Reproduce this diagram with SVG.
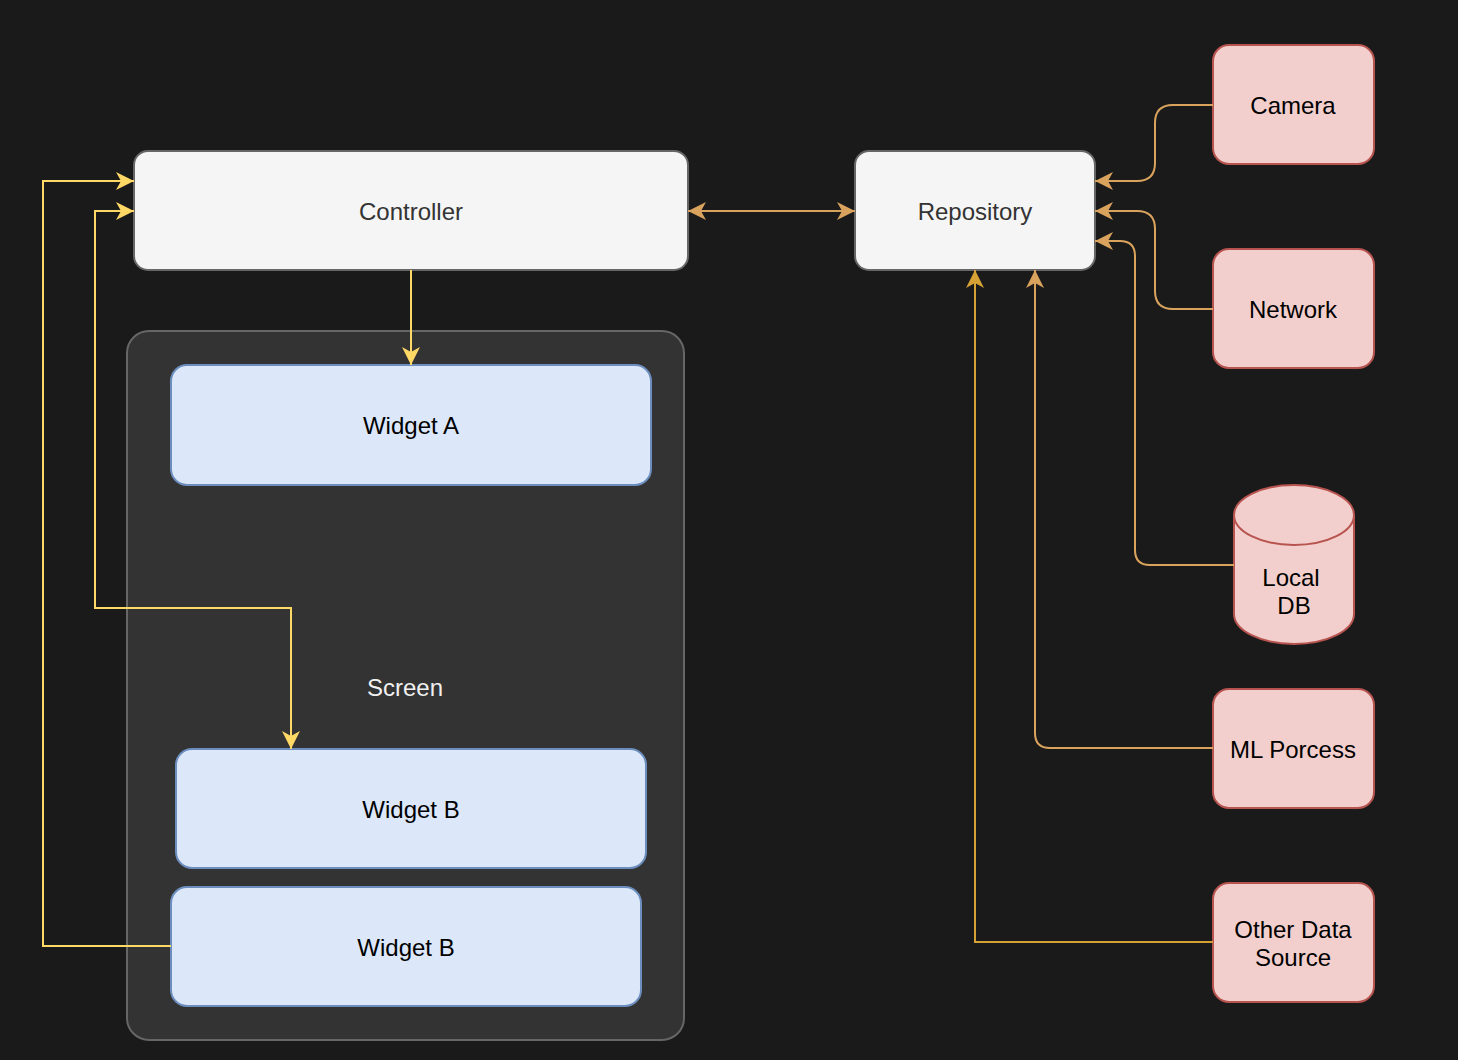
<svg xmlns="http://www.w3.org/2000/svg" width="1458" height="1060" viewBox="0 0 1458 1060">
<defs>
<style>
.t{font-family:"Liberation Sans",Arial,Helvetica,sans-serif;font-size:24px;text-anchor:middle}
.gray{fill:#f5f5f5;stroke:#666;stroke-width:2}
.red{fill:#f2cfcc;stroke:#b85450;stroke-width:2}
.blue{fill:#dce8fa;stroke:#6c8ebf;stroke-width:2}
.y{fill:none;stroke:#ffd966;stroke-width:2}
.tan{fill:none;stroke:#d9a35e;stroke-width:2}
.gold{fill:none;stroke:#d6a236;stroke-width:2}
</style>
<marker id="ay" markerUnits="userSpaceOnUse" markerWidth="18" markerHeight="18" refX="18" refY="9" orient="auto-start-reverse" viewBox="0 0 18 18"><path d="M0,0 L18,9 L0,18 L5,9 Z" fill="#ffd966"/></marker>
<marker id="at" markerUnits="userSpaceOnUse" markerWidth="18" markerHeight="18" refX="18" refY="9" orient="auto-start-reverse" viewBox="0 0 18 18"><path d="M0,0 L18,9 L0,18 L5,9 Z" fill="#d9a35e"/></marker>
<marker id="ag" markerUnits="userSpaceOnUse" markerWidth="18" markerHeight="18" refX="18" refY="9" orient="auto-start-reverse" viewBox="0 0 18 18"><path d="M0,0 L18,9 L0,18 L5,9 Z" fill="#d6a236"/></marker>
</defs>
<rect width="1458" height="1060" fill="#1a1a1a"/>

<g id="screen">
<rect x="127" y="331" width="557" height="709" rx="22" fill="#333333" stroke="#666" stroke-width="2"/>
<text class="t" x="405" y="696" fill="#f0f0f0">Screen</text>
</g>

<g id="controller">
<rect class="gray" x="134" y="151" width="554" height="119" rx="14"/>
<text class="t" x="411" y="220" fill="#333">Controller</text>
</g>

<g id="repository">
<rect class="gray" x="855" y="151" width="240" height="119" rx="14"/>
<text class="t" x="975" y="220" fill="#333">Repository</text>
</g>

<g id="widgetA">
<rect class="blue" x="171" y="365" width="480" height="120" rx="16"/>
<text class="t" x="411" y="434" fill="#000">Widget A</text>
</g>

<g id="widgetB1">
<rect class="blue" x="176" y="749" width="470" height="119" rx="16"/>
<text class="t" x="411" y="818" fill="#000">Widget B</text>
</g>

<g id="widgetB2">
<rect class="blue" x="171" y="887" width="470" height="119" rx="16"/>
<text class="t" x="406" y="956" fill="#000">Widget B</text>
</g>

<g id="camera">
<rect class="red" x="1213" y="45" width="161" height="119" rx="16"/>
<text class="t" x="1293" y="114" fill="#000">Camera</text>
</g>

<g id="network">
<rect class="red" x="1213" y="249" width="161" height="119" rx="16"/>
<text class="t" x="1293" y="318" fill="#000">Network</text>
</g>

<g id="localdb">
<path class="red" d="M1234,515 A60,30 0 0 1 1354,515 L1354,614 A60,30 0 0 1 1234,614 Z"/>
<path d="M1234,515 A60,30 0 0 0 1354,515" fill="none" stroke="#b85450" stroke-width="2"/>
<text class="t" x="1291" y="586" fill="#000">Local</text>
<text class="t" x="1294" y="614" fill="#000">DB</text>
</g>

<g id="ml">
<rect class="red" x="1213" y="689" width="161" height="119" rx="16"/>
<text class="t" x="1293" y="758" fill="#000">ML Porcess</text>
</g>

<g id="other">
<rect class="red" x="1213" y="883" width="161" height="119" rx="16"/>
<text class="t" x="1293" y="938" fill="#000">Other Data</text>
<text class="t" x="1293" y="966" fill="#000">Source</text>
</g>

<g id="connectors">
<path class="y" d="M411,270 L411,365" marker-end="url(#ay)"/>
<path class="y" d="M171,946 L43,946 L43,181 L134,181" marker-end="url(#ay)"/>
<path class="y" d="M134,211 L95,211 L95,608 L291,608 L291,749" marker-start="url(#ay)" marker-end="url(#ay)"/>
<path class="tan" d="M688,211 L855,211" marker-start="url(#at)" marker-end="url(#at)"/>
<path class="tan" d="M1213,105 L1173,105 Q1155,105 1155,123 L1155,163 Q1155,181 1137,181 L1095,181" marker-end="url(#at)"/>
<path class="tan" d="M1213,309 L1173,309 Q1155,309 1155,291 L1155,229 Q1155,211 1137,211 L1095,211" marker-end="url(#at)"/>
<path class="tan" d="M1234,565 L1150,565 Q1135,565 1135,550 L1135,256 Q1135,241 1120,241 L1095,241" marker-end="url(#at)"/>
<path class="tan" d="M1213,748 L1050,748 Q1035,748 1035,733 L1035,270" marker-end="url(#at)"/>
<path class="gold" d="M1213,942 L975,942 L975,270" marker-end="url(#ag)"/>
</g>
</svg>
